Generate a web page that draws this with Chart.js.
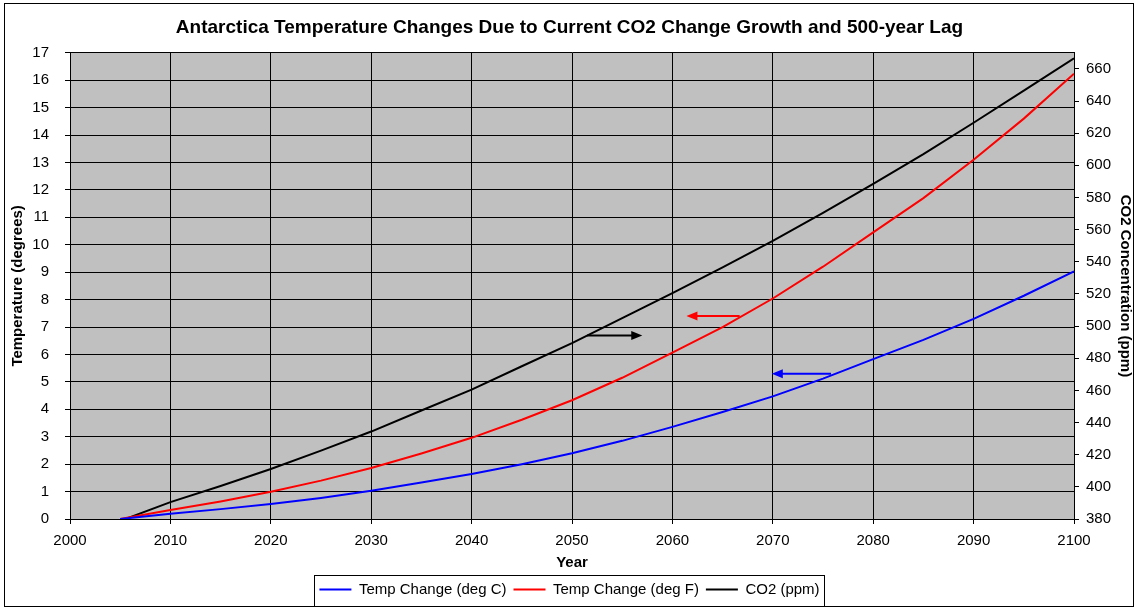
<!DOCTYPE html>
<html lang="en">
<head>
    <meta charset="UTF-8">
    <title>Antarctica Temperature Changes</title>
    <script src="https://cdn.jsdelivr.net/npm/chart.js"></script>
    <style>
        body { margin: 0; background: #fff; }
    </style>
</head>

<body>
    <canvas id="tempChart" width="1138" height="609"></canvas>

    <script>
        // Values
        const years = [2005, 2010, 2015, 2020, 2025, 2030, 2035, 2040, 2045, 2050,
                       2055, 2060, 2065, 2070, 2075, 2080, 2085, 2090, 2095, 2100];
        const tempC = [0, 0.19, 0.36, 0.55, 0.77, 1.03, 1.33, 1.64, 2.0, 2.4,
                       2.85, 3.36, 3.9, 4.47, 5.12, 5.83, 6.53, 7.3, 8.14, 9.03];
        const tempF = [0, 0.33, 0.64, 0.99, 1.4, 1.86, 2.39, 2.96, 3.62, 4.33,
                       5.15, 6.07, 7.0, 8.04, 9.2, 10.45, 11.7, 13.1, 14.6, 16.24];
        const co2 = [378.8, 390.5, 400.5, 411.1, 422.5, 434.4, 447.5, 460.5, 475, 489.4,
                     505, 520.5, 536.5, 553, 570.5, 588.5, 607, 626.5, 646.5, 666.6];

        // Tick labels
        const yearTicks = [2000, 2010, 2020, 2030, 2040, 2050, 2060, 2070, 2080, 2090, 2100];
        const ppmTicks = [380, 400, 420, 440, 460, 480, 500, 520, 540, 560, 580, 600, 620, 640, 660];

        // Arrows pointing each line to its axis (year, left-axis value)
        const arrows = [
            { from: [2051.5, 6.69], to: [2057.0, 6.69], color: '#000000' },
            { from: [2066.7, 7.40], to: [2061.4, 7.40], color: '#ff0000' },
            { from: [2075.8, 5.30], to: [2069.9, 5.30], color: '#0000ff' }
        ];

        const pts = vals => years.map((x, i) => ({ x: x, y: vals[i] }));

        Chart.defaults.font.family = "'Liberation Sans', Arial, sans-serif";
        Chart.defaults.font.size = 15;
        Chart.defaults.color = '#000';

        // Gray plot area, outer frame, legend box and arrows
        const decorations = {
            id: 'decorations',
            beforeDraw(chart) {
                const c = chart.ctx, a = chart.chartArea;
                c.save();
                c.fillStyle = '#ffffff';
                c.fillRect(0, 0, chart.width, chart.height);
                c.fillStyle = '#c0c0c0';
                c.fillRect(a.left, a.top, a.right - a.left, a.bottom - a.top);
                c.restore();
            },
            afterDatasetsDraw(chart) {
                const c = chart.ctx;
                const xs = chart.scales.x, ys = chart.scales.y;
                c.save();
                arrows.forEach(ar => {
                    const x1 = xs.getPixelForValue(ar.from[0]);
                    const x2 = xs.getPixelForValue(ar.to[0]);
                    const y = ys.getPixelForValue(ar.from[1]);
                    const dir = x2 > x1 ? 1 : -1;
                    c.strokeStyle = ar.color;
                    c.fillStyle = ar.color;
                    c.lineWidth = 2;
                    c.beginPath();
                    c.moveTo(x1, y);
                    c.lineTo(x2 - dir * 8, y);
                    c.stroke();
                    c.beginPath();
                    c.moveTo(x2, y);
                    c.lineTo(x2 - dir * 11, y - 4.5);
                    c.lineTo(x2 - dir * 11, y + 4.5);
                    c.closePath();
                    c.fill();
                });
                c.restore();
            },
            afterDraw(chart) {
                const c = chart.ctx;
                c.save();
                c.strokeStyle = '#000';
                c.lineWidth = 1;
                c.strokeRect(4.5, 3.5, 1129, 603);
                const lg = chart.legend;
                if (lg && lg.legendHitBoxes.length) {
                    const boxes = lg.legendHitBoxes;
                    const l = Math.min(...boxes.map(b => b.left)) - 5;
                    const r = Math.max(...boxes.map(b => b.left + b.width)) + 5;
                    c.strokeRect(Math.round(l) + 0.5, Math.round(lg.top) + 0.5,
                                 Math.round(r - l), Math.round(lg.bottom - lg.top) - 1);
                }
                c.restore();
            }
        };

        const ctx = document.getElementById('tempChart').getContext('2d');
        const tempChart = new Chart(ctx, {
            type: 'line',
            data: {
                datasets: [
                    { label: 'Temp Change (deg C)', data: pts(tempC), borderColor: '#0000ff',
                      backgroundColor: '#0000ff', borderWidth: 2, pointRadius: 0, yAxisID: 'y' },
                    { label: 'Temp Change (deg F)', data: pts(tempF), borderColor: '#ff0000',
                      backgroundColor: '#ff0000', borderWidth: 2, pointRadius: 0, yAxisID: 'y' },
                    { label: 'CO2 (ppm)', data: pts(co2), borderColor: '#000000',
                      backgroundColor: '#000000', borderWidth: 2, pointRadius: 0, yAxisID: 'y2' }
                ]
            },
            options: {
                responsive: false,
                animation: false,
                devicePixelRatio: 1,
                layout: { padding: { left: 5, right: 4, top: 0, bottom: 2 } },
                plugins: {
                    title: {
                        display: true,
                        text: 'Antarctica Temperature Changes Due to Current CO2 Change Growth and 500-year Lag',
                        font: { size: 19, weight: 'bold' },
                        color: '#000',
                        padding: { top: 16, bottom: 14 }
                    },
                    legend: {
                        position: 'bottom',
                        labels: {
                            usePointStyle: true,
                            pointStyle: 'line',
                            pointStyleWidth: 32,
                            padding: 7,
                            color: '#000',
                            font: { size: 15 }
                        }
                    },
                    tooltip: { enabled: false }
                },
                scales: {
                    x: {
                        type: 'linear',
                        min: 2000,
                        max: 2100,
                        ticks: { padding: 8, maxRotation: 0, color: '#000',
                                 callback: v => String(v) },
                        afterBuildTicks(scale) {
                            scale.ticks = yearTicks.map(v => ({ value: v }));
                        },
                        grid: { color: '#000', lineWidth: 1, tickLength: 5 },
                        border: { color: '#000' },
                        title: { display: true, text: 'Year', font: { size: 15, weight: 'bold' },
                                 color: '#000', padding: { top: 3, bottom: 3 } },
                        afterFit(scale) { scale.height = 56; }
                    },
                    y: {
                        position: 'left',
                        min: 0,
                        max: 17,
                        ticks: { stepSize: 1, padding: 16, color: '#000' },
                        grid: { color: '#000', lineWidth: 1, tickLength: 5 },
                        border: { color: '#000' },
                        title: { display: true, text: 'Temperature (degrees)', font: { size: 15, weight: 'bold' },
                                 color: '#000', padding: { top: 4, bottom: 4 } },
                        afterFit(scale) { scale.width = 65; }
                    },
                    y2: {
                        position: 'right',
                        min: 380,
                        max: 670,
                        ticks: { padding: 7, color: '#000', callback: v => String(v) },
                        afterBuildTicks(scale) {
                            scale.ticks = ppmTicks.map(v => ({ value: v }));
                        },
                        grid: { drawOnChartArea: false, color: '#000', tickLength: 5 },
                        border: { color: '#000' },
                        title: { display: true, text: 'CO2 Concentration (ppm)', font: { size: 15, weight: 'bold' },
                                 color: '#000', padding: { top: 0, bottom: 0 } },
                        afterFit(scale) { scale.width = 60; }
                    }
                }
            },
            plugins: [decorations]
        });
    </script>
</body>
</html>
